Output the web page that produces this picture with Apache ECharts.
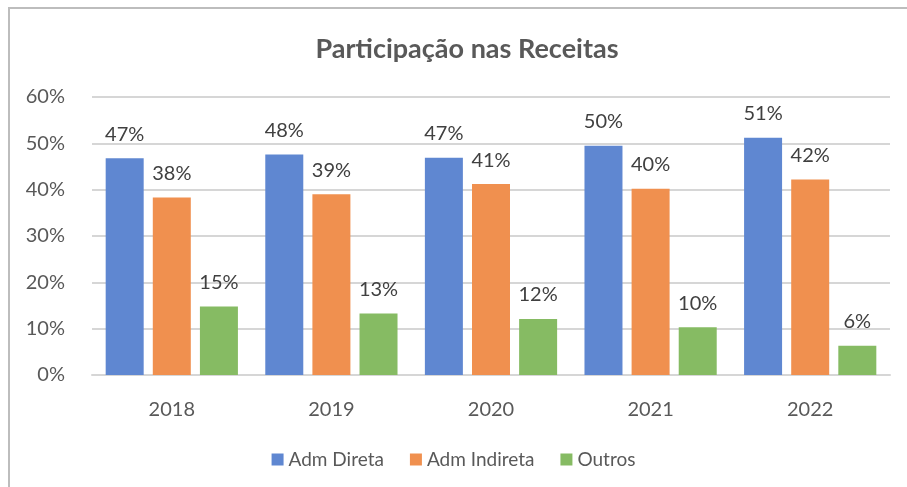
<!DOCTYPE html>
<html>
<head>
<meta charset="utf-8">
<script src="https://cdn.jsdelivr.net/npm/echarts@6/dist/echarts.min.js"></script>
<style>
  html, body { margin: 0; padding: 0; background: #fff; }
  #chart { width: 907px; height: 487px; }
</style>
</head>
<body>
<div id="chart"></div>
<script>
const years = ['2018', '2019', '2020', '2021', '2022']
const admDireta = [46.8, 47.6, 46.9, 49.5, 51.2]
const admIndireta = [38.3, 39.0, 41.2, 40.2, 42.2]
const outros = [14.8, 13.3, 12.1, 10.3, 6.3]
const yTicks = [0, 10, 20, 30, 40, 50, 60]

const colors = ['#5f87d1', '#f0904f', '#86bb63']
const fontFamily = 'Lato, "Open Sans", sans-serif'

const myChart = echarts.init(document.getElementById('chart'))

const labelStyle = {
  show: true,
  position: 'top',
  distance: 14,
  color: '#404040',
  fontSize: 20,
  fontFamily: fontFamily,
  formatter: (p) => Math.round(p.value) + '%',
}

function barSeries(name, data, color) {
  return {
    name: name,
    type: 'bar',
    data: data,
    barWidth: 38,
    barGap: '24%',
    itemStyle: { color: color },
    label: labelStyle,
  }
}

const option = {
  animation: false,
  textStyle: { fontFamily: fontFamily },
  title: {
    text: 'Participação nas Receitas',
    left: 462,
    textAlign: 'center',
    top: 31,
    textStyle: { fontSize: 27, fontWeight: 'bold', color: '#595959', fontFamily: fontFamily },
  },
  legend: {
    bottom: 13,
    left: 'center',
    itemWidth: 12,
    itemHeight: 12,
    itemGap: 26,
    icon: 'rect',
    textStyle: { fontSize: 19, color: '#595959', fontFamily: fontFamily },
    data: ['Adm Direta', 'Adm Indireta', 'Outros'],
  },
  grid: { left: 92, right: 17, top: 97, bottom: 112 },
  xAxis: {
    type: 'category',
    data: years,
    axisTick: { show: false },
    axisLine: { lineStyle: { color: '#d6d6d6', width: 2 } },
    axisLabel: { color: '#595959', fontSize: 20, margin: 25 },
  },
  yAxis: {
    type: 'value',
    min: yTicks[0],
    max: yTicks[yTicks.length - 1],
    interval: 10,
    axisLine: { show: false },
    axisTick: { show: false },
    splitLine: { lineStyle: { color: '#d6d6d6', width: 2 } },
    axisLabel: { color: '#595959', fontSize: 20, margin: 27, formatter: '{value}%' },
  },
  graphic: [
    { type: 'line', shape: { x1: 8, y1: 8, x2: 907, y2: 8 }, style: { stroke: '#bdbdbd', lineWidth: 2 } },
    { type: 'line', shape: { x1: 9, y1: 8, x2: 9, y2: 487 }, style: { stroke: '#bdbdbd', lineWidth: 2 } },
  ],
  series: [
    barSeries('Adm Direta', admDireta, colors[0]),
    barSeries('Adm Indireta', admIndireta, colors[1]),
    barSeries('Outros', outros, colors[2]),
  ],
}

myChart.setOption(option)
</script>
</body>
</html>
